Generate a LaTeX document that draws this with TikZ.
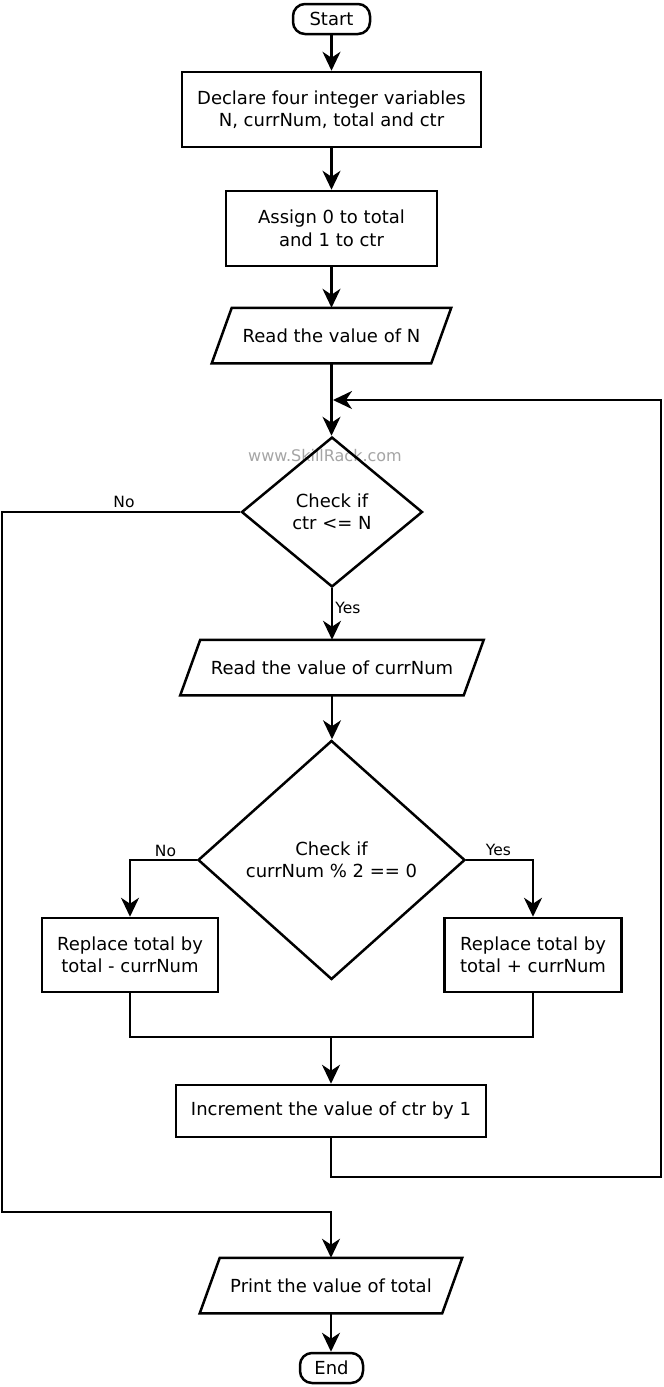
\documentclass[tikz,border=0pt]{standalone}
\usepackage{fontspec}
\setmainfont{DejaVu Sans}
\usetikzlibrary{shapes.geometric,arrows.meta}
\definecolor{wmgray}{RGB}{165,165,165}
\tikzset{
  ln/.style={line width=2.5pt, draw=black},
  arr/.style={ln, -{Stealth[length=19pt,width=18pt,inset=6pt]}},
  txt/.style={font=\fontsize{18}{22.5}\selectfont, align=center},
  procbox/.style={ln, txt, rectangle, inner sep=0pt},
  term/.style={ln, txt, rectangle, rounded corners=12pt, inner sep=0pt},
  iobox/.style={txt, rectangle, inner sep=0pt, line width=2.5pt, draw=none},
  decision/.style={ln, txt, diamond, inner sep=0pt},
  lbl/.style={font=\fontsize{15.5}{18}\selectfont, inner sep=0pt},
  wmark/.style={font=\fontsize{16}{19}\selectfont, text=wmgray, inner sep=0pt}
}
\newcommand\iopath[2]{\draw[ln] ([xshift=#2]#1.north west) -- ([xshift=#2]#1.north east) -- ([xshift=-#2]#1.south east) -- ([xshift=-#2]#1.south west) -- cycle;}
\begin{document}
\begin{tikzpicture}[x=1pt,y=-1pt]
\useasboundingbox (0,0) rectangle (664,1387);
\fill[white] (0,0) rectangle (664,1387);

\node[wmark] (wm) at (325,456) {www.SkillRack.com};

\node[term, minimum width=77pt, minimum height=30pt] (start) at (331.5,19) {Start};
\node[procbox, minimum width=299pt, minimum height=75pt] (decl) at (331.5,109.5) {Declare four integer variables\\N, currNum, total and ctr};
\node[procbox, minimum width=211pt, minimum height=75pt] (assign) at (331.5,228.5) {Assign 0 to total\\and 1 to ctr};
\node[iobox, minimum width=217pt, minimum height=53pt] (readN) at (331.5,335.5) {Read the value of N};
\iopath{readN}{10pt}
\node[decision, minimum width=181pt, minimum height=150pt] (chk1) at (332,512) {Check if\\ctr <= N};
\node[iobox, minimum width=281pt, minimum height=53pt] (readC) at (332,667.5) {Read the value of currNum};
\iopath{readC}{10pt}
\node[decision, minimum width=267pt, minimum height=239pt] (chk2) at (331.5,860) {Check if\\currNum \% 2 == 0};
\node[procbox, minimum width=176pt, minimum height=74pt] (sub) at (130,955) {Replace total by\\total - currNum};
\node[procbox, minimum width=177pt, minimum height=74pt] (add) at (533,955) {Replace total by\\total + currNum};
\node[procbox, minimum width=310pt, minimum height=52pt] (inc) at (331,1111) {Increment the value of ctr by 1};
\node[iobox, minimum width=240pt, minimum height=53pt] (printT) at (331,1285.5) {Print the value of total};
\iopath{printT}{10pt}
\node[term, minimum width=63pt, minimum height=30pt] (endN) at (331.5,1368) {End};

\node[lbl] (no1) at (124,502) {No};
\node[lbl] (yes1) at (348,608) {Yes};
\node[lbl] (no2) at (165.5,850.5) {No};
\node[lbl] (yes2) at (498.5,850) {Yes};

\coordinate (nl1) at (2,512);
\coordinate (nl2) at (2,1212);
\coordinate (mg) at (331,1037);
\coordinate (lp1) at (661,1177);
\coordinate (lp2) at (661,400);
\coordinate (lpend) at (333,400);

\draw[arr] (start) -- (decl);
\draw[arr] (decl) -- (assign);
\draw[arr] (assign) -- (readN);
\draw[arr] (readN.south) -- (readN.south |- chk1.north);
\draw[arr] (chk1.west) -- (nl1) -- (nl2) -| (printT.north);
\draw[arr] (chk1.south) -- (chk1.south |- readC.north);
\draw[arr] (readC.south) -- (readC.south |- chk2.north);
\draw[arr] (chk2.west) -| (sub.north);
\draw[arr] (chk2.east) -| (add.north);
\draw[ln] (sub.south) |- (mg) -| (add.south);
\draw[arr] (mg) -- (mg |- inc.north);
\draw[arr] (inc.south) |- (lp1) -- (lp2) -- (lpend);
\draw[arr] (printT.south) -- (printT.south |- endN.north);
\end{tikzpicture}
\end{document}
